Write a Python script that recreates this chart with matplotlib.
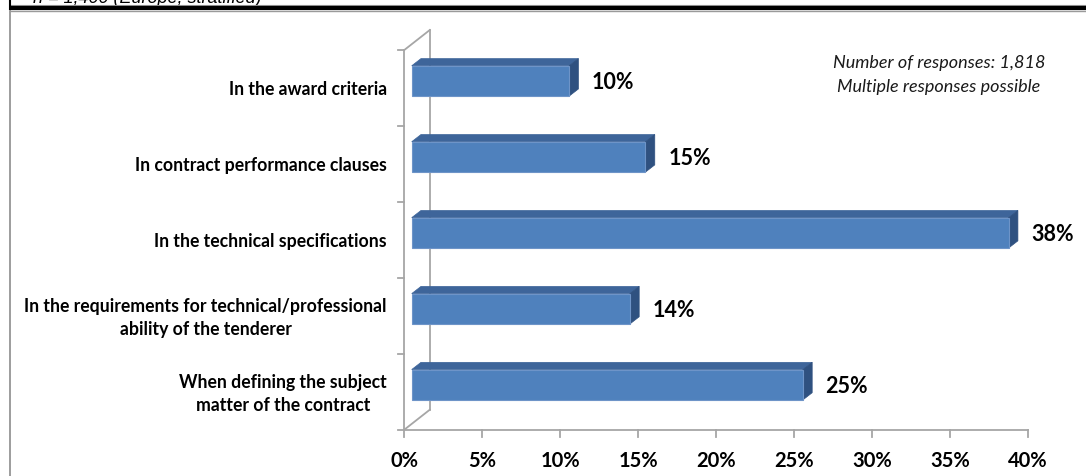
import matplotlib
matplotlib.use("Agg")
import matplotlib.pyplot as plt
from matplotlib.patches import Polygon
from matplotlib.lines import Line2D
import numpy as np

categories = [
    "In the award criteria",
    "In contract performance clauses",
    "In the technical specifications",
    "In the requirements for technical/professional\nability of the tenderer",
    "When defining the subject\nmatter of the contract",
]
values = [10.1, 15.0, 38.3, 14.0, 25.1]
value_labels = ["10%", "15%", "38%", "14%", "25%"]
xticks = [0, 5, 10, 15, 20, 25, 30, 35, 40]
xtick_labels = ["0%", "5%", "10%", "15%", "20%", "25%", "30%", "35%", "40%"]
note = "Number of responses: 1,818\nMultiple responses possible"
header = "n = 1,400 (Europe, stratified)"

W, H = 1086, 477
DPI = 100
fig = plt.figure(figsize=(W / DPI, H / DPI), dpi=DPI)
fig.patch.set_facecolor("white")

FONT = "Lato"
FRONT = "#4F81BD"
TOP = "#3E659A"
SIDE = "#2F5180"
EDGE_LT = "#6E94C8"
GRID = "#A6A6A6"

# axes: front plane of the 3D chart
x0p, x1p = 404.3, 1027.7
ytp, ybp = 51.0, 430.7
ax = fig.add_axes([x0p / W, (H - ybp) / H, (x1p - x0p) / W, (ybp - ytp) / H])
ax.set_xlim(0, 40)
ax.set_ylim(len(categories) - 0.5, -0.5)
ax.axis("off")

fig.canvas.draw()
T = ax.transData


def disp(x, y):
    return T.transform((x, y))


def fig_poly(pts, **kw):
    p = Polygon(pts, closed=True, transform=None, **kw)
    fig.add_artist(p)
    return p


def fig_line(xs, ys, **kw):
    l = Line2D(xs, ys, transform=None, **kw)
    fig.add_artist(l)
    return l


# wall depth (pixels)
wdx, wdy = 25.5, 20.0
bl = disp(0, len(categories) - 0.5)
tl = disp(0, -0.5)
br = disp(40, len(categories) - 0.5)
fig_line([tl[0], bl[0]], [tl[1], bl[1]], color=GRID, lw=1.3, zorder=1)
fig_line([tl[0], tl[0] + wdx], [tl[1], tl[1] + wdy], color=GRID, lw=1.3, zorder=1)
fig_line([tl[0] + wdx, bl[0] + wdx], [tl[1] + wdy, bl[1] + wdy], color=GRID, lw=1.3, zorder=1)
fig_line([bl[0], bl[0] + wdx], [bl[1], bl[1] + wdy], color=GRID, lw=1.3, zorder=1)
fig_line([bl[0], br[0]], [bl[1], br[1]], color=GRID, lw=1.3, zorder=1)

# left ticks at category boundaries
for b in np.arange(-0.5, len(categories), 1.0):
    p = disp(0, b)
    fig_line([p[0] - 6, p[0]], [p[1], p[1]], color=GRID, lw=1.3, zorder=1)

# bottom ticks and labels
for t, lab in zip(xticks, xtick_labels):
    p = disp(t, len(categories) - 0.5)
    fig_line([p[0], p[0]], [p[1], p[1] - 7], color=GRID, lw=1.3, zorder=1)
    fig.text(p[0] / W, (H - 461) / H, lab, ha="center", va="center",
             fontsize=14.5, fontweight="bold", family=FONT, color="black")

# bars
offx, offy = 7.4, 7.0      # front face offset from front plane
ddx, ddy = 9.3, 7.2        # bar depth
bh = 0.40                  # bar height in category units
for i, (v, lab) in enumerate(zip(values, value_labels)):
    a = disp(0, i + bh / 2)
    b = disp(v, i - bh / 2)
    xl, yb = a[0] + offx, a[1] + offy
    xr, yt = b[0] + offx, b[1] + offy
    fig_poly([(xl, yt), (xr, yt), (xr + ddx, yt + ddy), (xl + ddx, yt + ddy)],
             facecolor=TOP, edgecolor=TOP, lw=0.5, zorder=2)
    fig_poly([(xr, yb), (xr + ddx, yb + ddy), (xr + ddx, yt + ddy), (xr, yt)],
             facecolor=SIDE, edgecolor=SIDE, lw=0.5, zorder=2)
    fig_poly([(xl, yb), (xr, yb), (xr, yt), (xl, yt)],
             facecolor=FRONT, edgecolor=EDGE_LT, lw=0.8, zorder=3)
    c = disp(v + 3.3, i)
    fig.text(c[0] / W, (c[1] + offy - 1) / H, lab, ha="center", va="center",
             fontsize=15.5, fontweight="bold", family=FONT, color="black")

# category labels
for i, cat in enumerate(categories):
    p = disp(0, i)
    fig.text(387 / W, (p[1] - 1) / H, cat, ha="right", va="center",
             fontsize=12.7, fontweight="bold", family=FONT, color="black",
             multialignment="center", linespacing=1.45)

# note
fig.text(939 / W, (H - 75) / H, note, ha="center", va="center",
         fontsize=13, style="italic", family=FONT, color="#1a1a1a",
         multialignment="center", linespacing=1.6)

# frame / header strip
fig_line([9.5, 9.5], [H - 12, 0], color="#8C8C8C", lw=1.2, zorder=5)
fig_line([9.5, W], [H - 12, H - 12], color="#9A9A9A", lw=1.0, zorder=5)
fig_line([9.5, W], [H - 5.5, H - 5.5], color="#9A9A9A", lw=0.8, zorder=5)
fig_line([9.5, W], [H - 8.5, H - 8.5], color="black", lw=3.0, zorder=5,
         solid_capstyle="butt")
fig_line([10, 10], [H, H - 10], color="black", lw=1.5, zorder=5)
fig.text(33 / W, (H - 3) / H, header, ha="left", va="baseline",
         fontsize=13, style="italic", family="Liberation Sans", color="black")

fig.savefig("out.png", dpi=DPI, facecolor="white")
